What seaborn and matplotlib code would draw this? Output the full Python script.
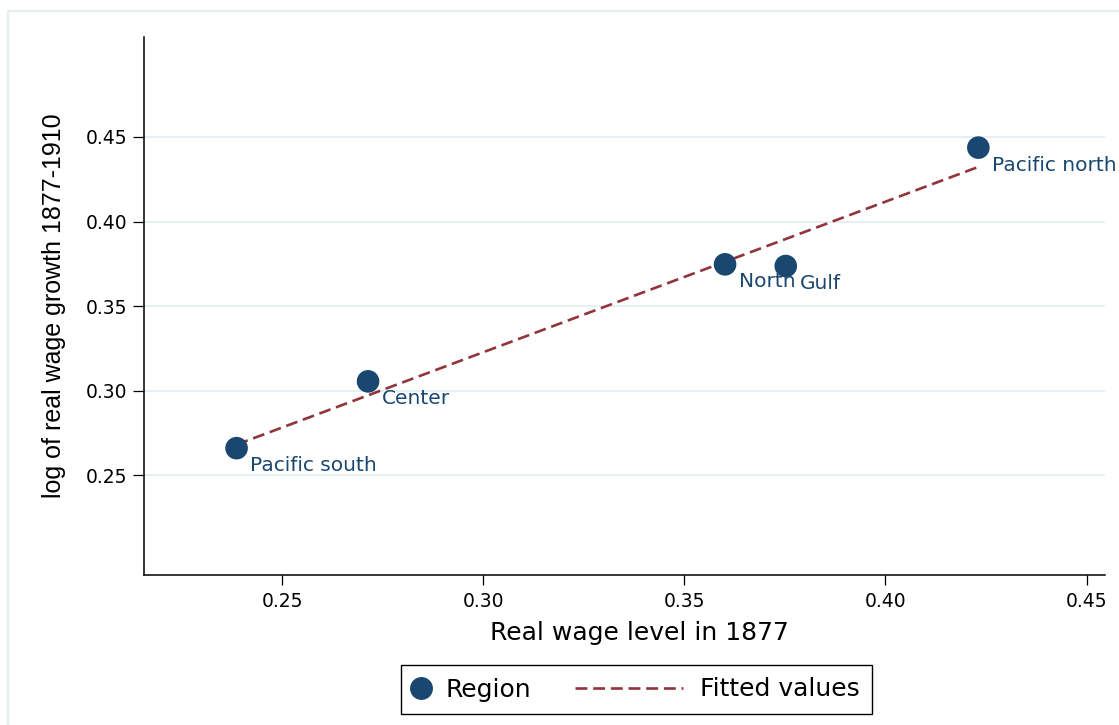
import numpy as np
import pandas as pd
import matplotlib
matplotlib.use("Agg")
import matplotlib.pyplot as plt
import seaborn as sns
from matplotlib.legend_handler import HandlerLine2D
from matplotlib.lines import Line2D
from matplotlib.patches import Rectangle

# Regional real wages: level in 1877 vs. log growth 1877-1910
regions = ["Pacific south", "Center", "North", "Gulf", "Pacific north"]
wage_level_1877 = [0.2386, 0.2713, 0.3601, 0.3752, 0.4231]
log_wage_growth = [0.2660, 0.3055, 0.3747, 0.3737, 0.4437]

x_ticks = [0.25, 0.30, 0.35, 0.40, 0.45]
x_tick_labels = ["0.25", "0.30", "0.35", "0.40", "0.45"]
y_ticks = [0.25, 0.30, 0.35, 0.40, 0.45]
y_tick_labels = ["0.25", "0.30", "0.35", "0.40", "0.45"]

NAVY = "#1a476f"
MAROON = "#90353b"
GRID = "#e6eef1"
DASH = (0, (4.5, 2.2))

df = pd.DataFrame({"region": regions,
                   "level": wage_level_1877,
                   "growth": log_wage_growth})
slope, intercept = np.polyfit(df["level"], df["growth"], 1)
df["fitted"] = intercept + slope * df["level"]

W, H = 1119, 725
fig = plt.figure(figsize=(W / 100, H / 100), dpi=100)
fig.patch.set_facecolor("white")

# light outer frame of the graph region
fig.add_artist(Rectangle((7.5 / W, -0.05), 1.2, (H - 11) / H + 0.05,
                         transform=fig.transFigure, fill=False,
                         edgecolor="#e6eef1", lw=1.6))

ax = fig.add_axes([143.7 / W, (H - 575) / H, (1105 - 143.7) / W, (575 - 36.7) / H])
ax.set_xlim(0.2155, 0.4546)
ax.set_ylim(0.191, 0.5093)

for yt in y_ticks:
    ax.axhline(yt, color=GRID, lw=1.3, zorder=0)

sns.lineplot(data=df, x="level", y="fitted", ax=ax, color=MAROON, lw=1.9,
             linestyle=DASH, zorder=2, legend=False)
sns.scatterplot(data=df, x="level", y="growth", ax=ax, color=NAVY, s=265,
                edgecolor="none", linewidth=0, zorder=3, legend=False)

for name, xv, yv in zip(df["region"], df["level"], df["growth"]):
    ax.annotate(name, (xv, yv), xytext=(10, -12.5), textcoords="offset points",
                ha="left", va="center", fontsize=14.5, color=NAVY)

for side in ("top", "right"):
    ax.spines[side].set_visible(False)
for side in ("left", "bottom"):
    ax.spines[side].set_color("black")
    ax.spines[side].set_linewidth(1.1)

ax.set_xticks(x_ticks)
ax.set_xticklabels(x_tick_labels)
ax.set_yticks(y_ticks)
ax.set_yticklabels(y_tick_labels)
ax.tick_params(axis="x", length=7.2, width=0.9, labelsize=13.5, pad=5)
ax.tick_params(axis="y", length=7.6, width=0.9, labelsize=13.5, pad=4)

ax.set_xlabel("Real wage level in 1877", fontsize=18)
ax.set_ylabel("log of real wage growth 1877-1910", fontsize=18,
              family="Liberation Sans")
ax.xaxis.set_label_coords(0.516, -0.0855)
ax.yaxis.set_label_coords(-0.0808, 0.5)

h_region = Line2D([], [], marker="o", ls="none", color=NAVY, markersize=16.5,
                  markeredgewidth=0)
h_fit = Line2D([], [], color=MAROON, lw=1.9, ls=DASH)
leg = ax.legend([h_region, h_fit], ["Region", "Fitted values"], ncol=2,
                loc="center", bbox_to_anchor=(636.5 / W, 1 - 689.5 / H),
                bbox_transform=fig.transFigure, fontsize=18, frameon=True,
                fancybox=False, edgecolor="black", framealpha=1,
                handlelength=0.6, handletextpad=0.68, columnspacing=5.5,
                borderpad=0.5,
                handler_map={h_fit: HandlerLine2D(xpad=-3.73)})
leg.get_frame().set_linewidth(1.0)

fig.savefig("out.png", dpi=100)
